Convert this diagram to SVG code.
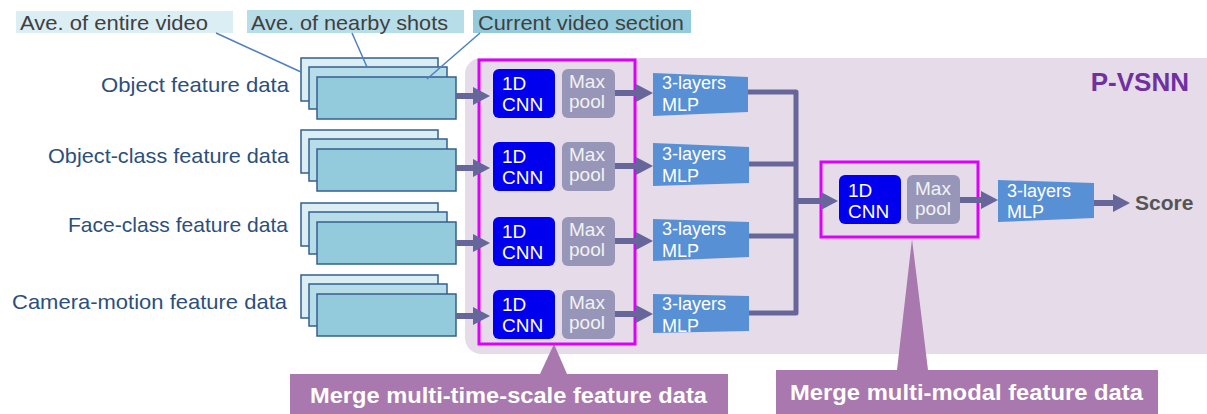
<svg xmlns="http://www.w3.org/2000/svg" width="1207" height="414" viewBox="0 0 1207 414">
<defs>
<marker id="ah" markerUnits="userSpaceOnUse" markerWidth="18" markerHeight="20" refX="0" refY="10" orient="auto" overflow="visible">
<path d="M0,1 L17,10 L0,19 Z" fill="#66669a"/>
</marker>
<style>
text{font-family:"Liberation Sans",Arial,sans-serif}
.lbl{font-size:21px;fill:#2c4f7c;text-anchor:end}
.top{font-size:21px;fill:#404040}
.s1{fill:#dbeef4;stroke:#345f8e;stroke-width:1.5}
.s2{fill:#b7dde8;stroke:#345f8e;stroke-width:1.5}
.s3{fill:#93cbdc;stroke:#345f8e;stroke-width:1.5}
.cnn{fill:#0000ee}
.mp{fill:#9896b8}
.mlp{fill:#5890d5}
.wt{font-size:19px;fill:#ffffff}
.mt{font-size:19px;fill:#f2f2f2}
.lt{font-size:18px;fill:#ffffff}
.arr{stroke:#66669a;stroke-width:6;fill:none;marker-end:url(#ah)}
.bus{stroke:#66669a;stroke-width:5;fill:none;stroke-linejoin:round}
.lead{stroke:#4f81bd;stroke-width:1.5;fill:none}
.mag{fill:none;stroke:#dd00ff;stroke-width:3}
.call{fill:#a878ae}
.ct{font-size:22px;font-weight:bold;fill:#ffffff}
</style>
</defs>
<rect x="0" y="0" width="1207" height="414" fill="#ffffff"/>

<g id="pvsnn">
<rect x="465" y="58" width="760" height="296" rx="16" fill="#e6dbe9"/>
<text x="1189" y="91" text-anchor="end" style="font-size:26px;font-weight:bold;fill:#7030a0">P-VSNN</text>
</g>

<g id="legend">
<rect x="16" y="11" width="217" height="22" fill="#dbeef4"/>
<text class="top" x="20" y="30" textLength="188" lengthAdjust="spacingAndGlyphs">Ave. of entire video</text>
<rect x="247" y="10" width="217" height="23" fill="#b7dde8"/>
<text class="top" x="251" y="30" textLength="197" lengthAdjust="spacingAndGlyphs">Ave. of nearby shots</text>
<rect x="473" y="10" width="218" height="23" fill="#93cbdc"/>
<text class="top" x="478" y="30" textLength="206" lengthAdjust="spacingAndGlyphs">Current video section</text>
</g>

<g id="row1">
<text class="lbl" x="289" y="92" textLength="188" lengthAdjust="spacingAndGlyphs">Object feature data</text>
<rect class="s1" x="301" y="58" width="137" height="43"/>
<rect class="s2" x="309" y="67" width="138" height="42"/>
<rect class="s3" x="317" y="77" width="139" height="42"/>
<rect class="cnn" x="493" y="69" width="62" height="49" rx="6"/>
<text class="wt" x="502" y="90">1D</text><text class="wt" x="502" y="111">CNN</text>
<rect class="mp" x="562" y="69" width="53" height="49" rx="6"/>
<text class="mt" x="569" y="88">Max</text><text class="mt" x="569" y="108">pool</text>
<path class="mlp" d="M653,73 L748,77 L748,112 L653,116 Z"/>
<text class="lt" x="662" y="89">3-layers</text><text class="lt" x="662" y="111">MLP</text>
</g>

<g id="row2">
<text class="lbl" x="289" y="163" textLength="241" lengthAdjust="spacingAndGlyphs">Object-class feature data</text>
<rect class="s1" x="301" y="130" width="137" height="43"/>
<rect class="s2" x="309" y="139" width="138" height="42"/>
<rect class="s3" x="317" y="149" width="139" height="42"/>
<rect class="cnn" x="493" y="142" width="62" height="49" rx="6"/>
<text class="wt" x="502" y="163">1D</text><text class="wt" x="502" y="184">CNN</text>
<rect class="mp" x="562" y="142" width="53" height="49" rx="6"/>
<text class="mt" x="569" y="161">Max</text><text class="mt" x="569" y="181">pool</text>
<path class="mlp" d="M653,143 L749,147 L749,183 L653,186 Z"/>
<text class="lt" x="662" y="160">3-layers</text><text class="lt" x="662" y="182">MLP</text>
</g>

<g id="row3">
<text class="lbl" x="288" y="232" textLength="220" lengthAdjust="spacingAndGlyphs">Face-class feature data</text>
<rect class="s1" x="301" y="203" width="137" height="43"/>
<rect class="s2" x="309" y="212" width="138" height="42"/>
<rect class="s3" x="317" y="222" width="139" height="42"/>
<rect class="cnn" x="493" y="217" width="62" height="49" rx="6"/>
<text class="wt" x="502" y="238">1D</text><text class="wt" x="502" y="259">CNN</text>
<rect class="mp" x="562" y="217" width="53" height="49" rx="6"/>
<text class="mt" x="569" y="236">Max</text><text class="mt" x="569" y="256">pool</text>
<path class="mlp" d="M653,219 L749,222 L749,257 L653,261 Z"/>
<text class="lt" x="662" y="235">3-layers</text><text class="lt" x="662" y="257">MLP</text>
</g>

<g id="row4">
<text class="lbl" x="287" y="309" textLength="275" lengthAdjust="spacingAndGlyphs">Camera-motion feature data</text>
<rect class="s1" x="301" y="275" width="137" height="43"/>
<rect class="s2" x="309" y="284" width="138" height="42"/>
<rect class="s3" x="317" y="294" width="139" height="42"/>
<rect class="cnn" x="493" y="290" width="62" height="49" rx="6"/>
<text class="wt" x="502" y="311">1D</text><text class="wt" x="502" y="332">CNN</text>
<rect class="mp" x="562" y="290" width="53" height="49" rx="6"/>
<text class="mt" x="569" y="309">Max</text><text class="mt" x="569" y="329">pool</text>
<path class="mlp" d="M653,294 L749,296 L749,331 L653,333 Z"/>
<text class="lt" x="662" y="310">3-layers</text><text class="lt" x="662" y="332">MLP</text>
</g>

<g id="merge">
<rect class="cnn" x="839" y="175" width="62" height="49" rx="6"/>
<text class="wt" x="848" y="197">1D</text><text class="wt" x="848" y="218">CNN</text>
<rect class="mp" x="907" y="175" width="53" height="49" rx="6"/>
<text class="mt" x="915" y="195">Max</text><text class="mt" x="915" y="215">pool</text>
<path class="mlp" d="M998,180 L1094,183 L1094,218 L998,222 Z"/>
<text class="lt" x="1007" y="197">3-layers</text><text class="lt" x="1007" y="218">MLP</text>
</g>

<g id="score">
<text x="1135" y="210" style="font-size:21px;font-weight:bold;fill:#555555">Score</text>
</g>

<g id="callouts">
<path class="call" d="M290,374 L540,374 L554,344 L567,374 L728,374 L728,414 L290,414 Z"/>
<text class="ct" x="310" y="403" textLength="397" lengthAdjust="spacingAndGlyphs">Merge multi-time-scale feature data</text>
<path class="call" d="M776,370 L897,370 L912,239 L928,370 L1158,370 L1158,414 L776,414 Z"/>
<text class="ct" x="790" y="400" textLength="353" lengthAdjust="spacingAndGlyphs">Merge multi-modal feature data</text>
</g>

<g id="groups">
<rect class="mag" x="479" y="60" width="156" height="284"/>
<rect class="mag" x="821" y="162" width="157" height="75"/>
</g>

<g id="connectors">
<line class="lead" x1="216" y1="33" x2="301" y2="72"/>
<line class="lead" x1="352" y1="33" x2="367" y2="67"/>
<line class="lead" x1="480" y1="33" x2="427" y2="79"/>
<line class="arr" x1="456" y1="96" x2="473" y2="96"/>
<line class="arr" x1="456" y1="168" x2="473" y2="168"/>
<line class="arr" x1="456" y1="243" x2="473" y2="243"/>
<line class="arr" x1="456" y1="316" x2="473" y2="316"/>
<line class="arr" x1="615" y1="93" x2="636" y2="93"/>
<line class="arr" x1="615" y1="166" x2="636" y2="166"/>
<line class="arr" x1="615" y1="241" x2="636" y2="241"/>
<line class="arr" x1="615" y1="314" x2="636" y2="314"/>
<path class="bus" d="M748,92 H796 V313 H749"/>
<path class="bus" d="M749,164 H796"/>
<path class="bus" d="M749,236 H796"/>
<line class="arr" x1="796" y1="201" x2="821" y2="201"/>
<line class="arr" x1="960" y1="200" x2="981" y2="200"/>
<line class="arr" x1="1094" y1="203" x2="1113" y2="203"/>
</g>
</svg>
